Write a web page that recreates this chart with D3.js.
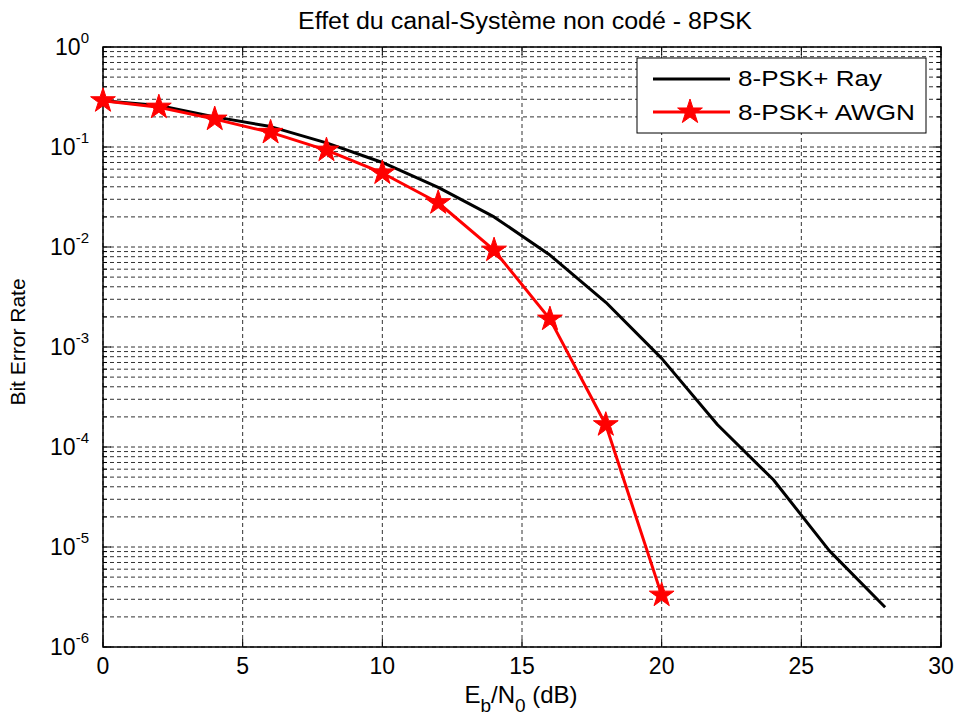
<!DOCTYPE html>
<html>
<head>
<meta charset="utf-8">
<script src="https://cdn.jsdelivr.net/npm/d3@7"></script>
<style>
  body { margin: 0; background: #fff; }
  text { font-family: "Liberation Sans", Arial, sans-serif; }
</style>
</head>
<body>
<script>
// Data
const snr = [0, 2, 4, 6, 8, 10, 12, 14, 16, 18, 20, 22, 24, 26, 28];
const berRay = [0.29, 0.26, 0.20, 0.16, 0.11, 0.07, 0.0395, 0.020, 0.0083, 0.0028, 0.00077, 0.000167, 0.000047, 0.0000092, 0.0000025];
const snrAwgn = [0, 2, 4, 6, 8, 10, 12, 14, 16, 18, 20];
const berAwgn = [0.29, 0.25, 0.19, 0.14, 0.093, 0.055, 0.0277, 0.0093, 0.0019, 0.000167, 0.0000033];
const xTicks = [0, 5, 10, 15, 20, 25, 30];
const yExps = [0, -1, -2, -3, -4, -5, -6];
const legendLabels = ["8-PSK+ Ray", "8-PSK+ AWGN"];

// SVG
const W = 963, H = 717;
const svg = d3.select("body").append("svg")
    .attr("width", W)
    .attr("height", H);

const margin = { top: 47, right: 22, bottom: 70, left: 103 };
const width = W - margin.left - margin.right;
const height = H - margin.top - margin.bottom;

const g = svg.append("g").attr("transform", "translate(" + margin.left + "," + margin.top + ")");

const x = d3.scaleLinear().domain([0, 30]).range([0, width]);
const y = d3.scaleLog().domain([1e-6, 1]).range([height, 0]);

// minor log ticks
const minor = [];
for (let e = -6; e < 0; e++) {
  for (let m = 1; m <= 9; m++) minor.push(m * Math.pow(10, e));
}
minor.push(1);

// Grid
g.append("g").selectAll("line").data(minor).join("line")
    .attr("x1", 0).attr("x2", width)
    .attr("y1", d => y(d)).attr("y2", d => y(d))
    .attr("stroke", "#000").attr("stroke-width", 1)
    .attr("stroke-dasharray", "4,3").attr("opacity", 0.8);
g.append("g").selectAll("line").data(xTicks).join("line")
    .attr("x1", d => x(d)).attr("x2", d => x(d))
    .attr("y1", 0).attr("y2", height)
    .attr("stroke", "#000").attr("stroke-width", 1)
    .attr("stroke-dasharray", "4,3").attr("opacity", 0.8);

// Ticks (inward, both sides)
const tk = g.append("g").attr("stroke", "#000").attr("stroke-width", 1);
xTicks.forEach(d => {
  tk.append("line").attr("x1", x(d)).attr("x2", x(d)).attr("y1", height).attr("y2", height - 8);
  tk.append("line").attr("x1", x(d)).attr("x2", x(d)).attr("y1", 0).attr("y2", 8);
});
minor.forEach(d => {
  const major = Math.abs(Math.log10(d) - Math.round(Math.log10(d))) < 1e-9;
  const len = major ? 8 : 4;
  tk.append("line").attr("x1", 0).attr("x2", len).attr("y1", y(d)).attr("y2", y(d));
  tk.append("line").attr("x1", width).attr("x2", width - len).attr("y1", y(d)).attr("y2", y(d));
});

// Frame
g.append("rect").attr("width", width).attr("height", height)
    .attr("fill", "none").attr("stroke", "#000").attr("stroke-width", 1.5);

// Tick labels
g.append("g").selectAll("text").data(xTicks).join("text")
    .attr("x", d => x(d)).attr("y", height + 27)
    .attr("text-anchor", "middle").attr("font-size", "23px")
    .text(d => d);

const yl = g.append("g").selectAll("text").data(yExps).join("text")
    .attr("x", -14).attr("y", d => y(Math.pow(10, d)) + 8)
    .attr("text-anchor", "end").attr("font-size", "23px");
yl.append("tspan").text("10");
yl.append("tspan").attr("dy", -12).attr("font-size", "15px").text(d => d);

// Lines
const line = d3.line().x(d => x(d[0])).y(d => y(d[1]));
const rayData = snr.map((s, i) => [s, berRay[i]]);
const awgnData = snrAwgn.map((s, i) => [s, berAwgn[i]]);

g.append("path").datum(rayData).attr("d", line)
    .attr("fill", "none").attr("stroke", "#000").attr("stroke-width", 3)
    .attr("stroke-linejoin", "round");
g.append("path").datum(awgnData).attr("d", line)
    .attr("fill", "none").attr("stroke", "#ff0000").attr("stroke-width", 3)
    .attr("stroke-linejoin", "round");

const star = d3.symbol().type(d3.symbolStar).size(190);
g.append("g").selectAll("path").data(awgnData).join("path")
    .attr("transform", d => "translate(" + x(d[0]) + "," + y(d[1]) + ")")
    .attr("d", star)
    .attr("fill", "#ff0000").attr("stroke", "#ff0000").attr("stroke-width", 1);

// Legend
const lg = svg.append("g").attr("transform", "translate(637,58)");
lg.append("rect").attr("width", 289).attr("height", 75)
    .attr("fill", "#fff").attr("stroke", "#000").attr("stroke-width", 1);
lg.append("line").attr("x1", 16).attr("x2", 93).attr("y1", 21).attr("y2", 21)
    .attr("stroke", "#000").attr("stroke-width", 3);
lg.append("line").attr("x1", 16).attr("x2", 93).attr("y1", 54).attr("y2", 54)
    .attr("stroke", "#ff0000").attr("stroke-width", 3);
lg.append("path").attr("transform", "translate(53,54)").attr("d", star)
    .attr("fill", "#ff0000").attr("stroke", "#ff0000");
lg.selectAll("text.lab").data(legendLabels).join("text")
    .attr("class", "lab")
    .attr("x", 101).attr("y", (d, i) => 28 + i * 34)
    .attr("font-size", "22px")
    .attr("textLength", (d, i) => i === 0 ? 144 : 177)
    .attr("lengthAdjust", "spacingAndGlyphs")
    .text(d => d);

// Title and axis labels
svg.append("text").attr("x", 525).attr("y", 29)
    .attr("text-anchor", "middle").attr("font-size", "23px")
    .attr("textLength", 454).attr("lengthAdjust", "spacingAndGlyphs")
    .text("Effet du canal-Système non codé - 8PSK");

const xl = svg.append("text").attr("x", 521).attr("y", 703)
    .attr("text-anchor", "middle").attr("font-size", "24px");
xl.append("tspan").text("E");
xl.append("tspan").attr("dy", 9).attr("font-size", "19px").text("b");
xl.append("tspan").attr("dy", -9).text("/N");
xl.append("tspan").attr("dy", 9).attr("font-size", "19px").text("0");
xl.append("tspan").attr("dy", -9).text(" (dB)");

svg.append("text")
    .attr("transform", "translate(25,342) rotate(-90)")
    .attr("text-anchor", "middle").attr("font-size", "21px")
    .text("Bit Error Rate");
</script>
</body>
</html>
